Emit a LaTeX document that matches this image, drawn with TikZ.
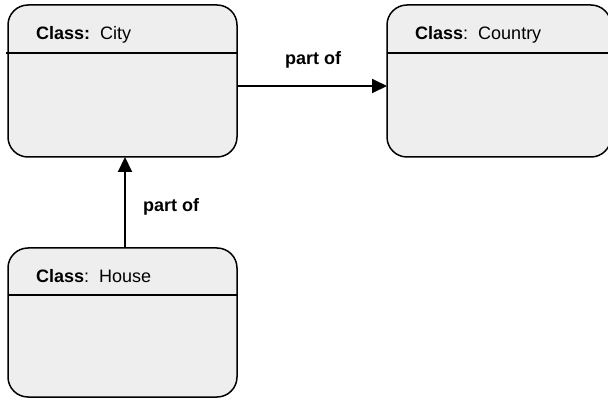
\documentclass[tikz,border=0pt]{standalone}
\usepackage{fontspec}
\setmainfont{Liberation Sans}
\usetikzlibrary{arrows.meta}
\definecolor{boxfill}{HTML}{EEEEEE}
\tikzset{
  classbox/.style={draw=black, fill=boxfill, line width=1.5pt, rounded corners=20pt},
  divider/.style={draw=black, line width=1.5pt},
  classlabel/.style={anchor=base west, inner sep=0pt, font=\fontsize{18}{21}\selectfont},
  rel/.style={draw=black, line width=2pt, -{Triangle[length=15pt,width=14pt]}},
  rellabel/.style={anchor=base west, inner sep=0pt, font=\fontsize{18}{21}\selectfont\bfseries}
}
\begin{document}
\begin{tikzpicture}[x=1pt,y=-1pt]
\useasboundingbox (0,0) rectangle (608,398);
\clip (0,0) rectangle (608,398);
% City
\path[classbox] (8,5) rectangle (237,157);
\coordinate (cityA) at (6,53);
\coordinate (cityB) at (237,53);
\draw[divider] (cityA) -- (cityB);
\node[classlabel] (cityT) at (36,40) {\textbf{Class:}\ \ City};
\coordinate (cityE) at (237,86);
\coordinate (cityS) at (125,157);
% Country
\path[classbox] (387,5) rectangle (611,157);
\coordinate (ctyA) at (387,53);
\coordinate (ctyB) at (611,53);
\draw[divider] (ctyA) -- (ctyB);
\node[classlabel] (ctyT) at (415,40) {\textbf{Class}:\ \ Country};
\coordinate (ctyW) at (387,86);
% House
\path[classbox] (8,248) rectangle (237,397);
\coordinate (houA) at (8,295);
\coordinate (houB) at (237,295);
\draw[divider] (houA) -- (houB);
\node[classlabel] (houT) at (36,283) {\textbf{Class}:\ \ House};
\coordinate (houN) at (125,248);
% relations
\draw[rel] (cityE) -- (ctyW);
\node[rellabel] (l1) at (285,65) {part of};
\draw[rel] (houN) -- (cityS);
\node[rellabel] (l2) at (143,212) {part of};
\end{tikzpicture}
\end{document}
